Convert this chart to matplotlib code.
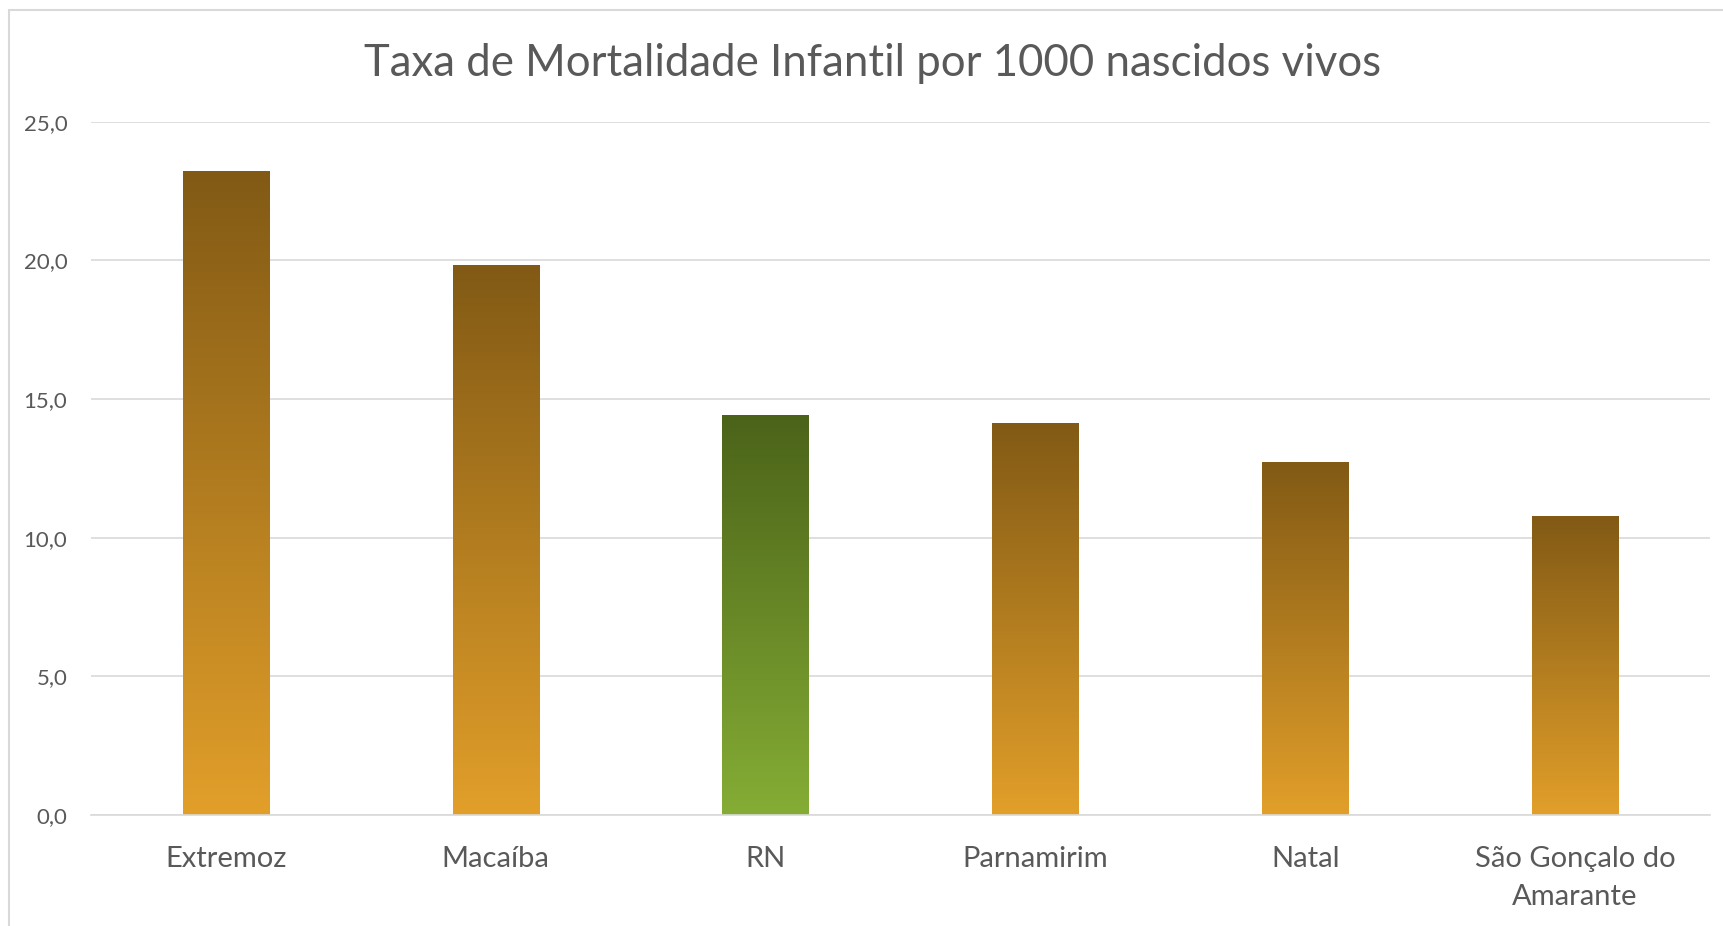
import numpy as np
import matplotlib
matplotlib.use("Agg")
import matplotlib.pyplot as plt
from matplotlib.colors import to_rgb
from matplotlib.patches import Rectangle

categories = ["Extremoz", "Macaíba", "RN", "Parnamirim", "Natal", "São Gonçalo do\nAmarante"]
values = [23.2, 19.8, 14.4, 14.1, 12.7, 10.75]
highlight = [False, False, True, False, False, False]
yticks = [0, 5, 10, 15, 20, 25]
ytick_labels = ["0,0", "5,0", "10,0", "15,0", "20,0", "25,0"]
title = "Taxa de Mortalidade Infantil por 1000 nascidos vivos"

plt.rcParams['font.family'] = ['Lato', 'DejaVu Sans']
W, H = 1723, 926
fig = plt.figure(figsize=(W / 100, H / 100), dpi=100)
fig.patch.set_facecolor("white")
fig.patches.append(Rectangle((9 / W, -0.1), 1.2, 1.1 - 10 / H, transform=fig.transFigure,
                             fill=False, edgecolor="#D9D9D9", linewidth=1.5))

ax = fig.add_axes([91 / W, (H - 815) / H, (1710 - 91) / W, (815 - 121.7) / H])
x = np.arange(len(categories))
bars = ax.bar(x, values, width=0.32, color="none", edgecolor="none")

orange = (to_rgb("#825A15"), to_rgb("#E29F2A"))
green = (to_rgb("#4B6319"), to_rgb("#85AD35"))
n = 256
for b, hl in zip(bars, highlight):
    top, bot = green if hl else orange
    t = np.linspace(0, 1, n)[:, None]
    grad = (np.array(top)[None, :] * (1 - t) + np.array(bot)[None, :] * t)[:, None, :]
    x0, y0 = b.get_x(), b.get_y()
    ax.imshow(grad, extent=(x0, x0 + b.get_width(), y0, y0 + b.get_height()),
              origin="upper", aspect="auto", interpolation="bilinear", zorder=2)

ax.set_xlim(-0.5, len(categories) - 0.5)
ax.set_ylim(0, 25)
ax.set_yticks(yticks)
ax.set_yticklabels(ytick_labels)
ax.set_xticks(x)
ax.set_xticklabels(categories, linespacing=1.55)
ax.grid(axis="y", color="#D9D9D9", linewidth=1.2, zorder=0)
ax.set_axisbelow(True)
for s in ["left", "right", "top"]:
    ax.spines[s].set_visible(False)
ax.spines["bottom"].set_color("#D9D9D9")
ax.spines["bottom"].set_linewidth(1.2)
ax.tick_params(axis="y", length=0, pad=17, labelsize=16, labelcolor="#595959")
ax.tick_params(axis="x", length=0, pad=22.5, labelsize=21, labelcolor="#595959")
ax.set_facecolor("none")

fig.text(873 / W, 1 - 64 / H, title, ha="center", va="center", fontsize=31.5, color="#595959")

fig.savefig("out.png", dpi=100)
